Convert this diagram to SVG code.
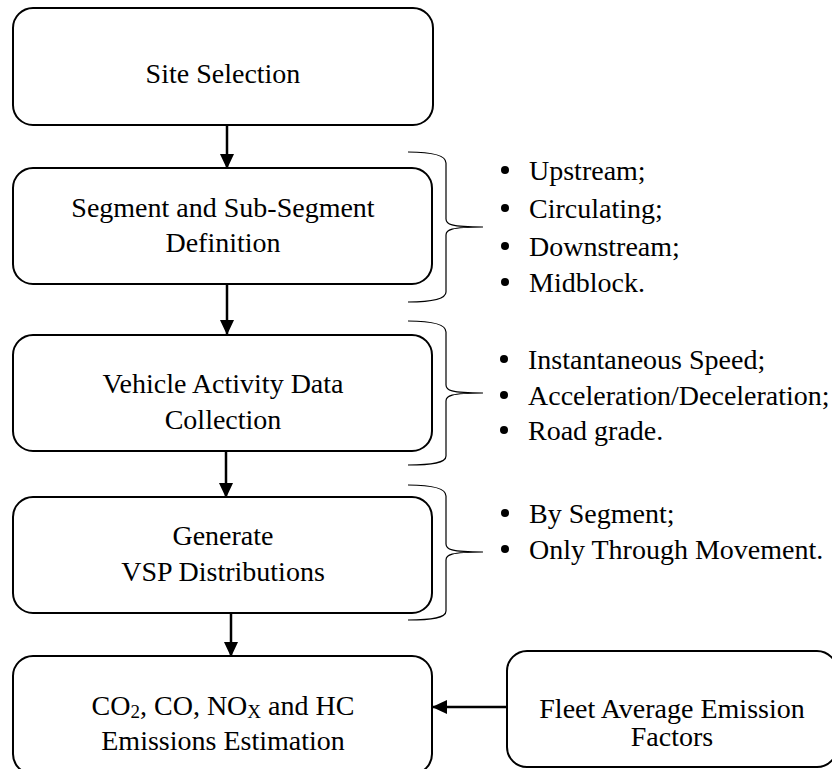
<svg xmlns="http://www.w3.org/2000/svg" width="832" height="769" viewBox="0 0 832 769">
  <style>
    .box { fill: #ffffff; stroke: #000000; stroke-width: 2; }
    .lbl { font-family: 'Liberation Serif', 'Times New Roman', 'DejaVu Serif', serif; font-size: 28px; fill: #000000; text-anchor: middle; }
    .item { font-family: 'Liberation Serif', 'Times New Roman', 'DejaVu Serif', serif; font-size: 28px; fill: #000000; }
    .sub { font-size: 19px; }
    .conn { stroke: #000000; stroke-width: 2.5; fill: none; marker-end: url(#head); }
    .brace { stroke: #000000; stroke-width: 1.2; fill: none; }
    .dot { fill: #000000; }
  </style>
  <defs>
    <marker id="head" markerUnits="userSpaceOnUse" markerWidth="16" markerHeight="14" refX="15" refY="7" orient="auto">
      <path d="M0,0 L15,7 L0,14 Z" fill="#000000"/>
    </marker>
  </defs>

  <rect width="832" height="769" fill="#ffffff"/>

  <!-- connectors -->
  <g id="connectors">
    <line class="conn" x1="227" y1="125" x2="227" y2="169"/>
    <line class="conn" x1="227" y1="284" x2="227" y2="335"/>
    <line class="conn" x1="226" y1="451" x2="226" y2="498"/>
    <line class="conn" x1="231" y1="613" x2="231" y2="657"/>
    <line class="conn" x1="507" y1="707" x2="432" y2="707"/>
  </g>

  <!-- process steps -->
  <g id="site-selection">
    <rect class="box" x="13" y="8" width="420" height="117" rx="20"/>
    <text class="lbl" x="223" y="83">Site Selection</text>
  </g>

  <g id="segment-definition">
    <rect class="box" x="13" y="168" width="419" height="116" rx="20"/>
    <text class="lbl" x="223" y="217">Segment and Sub-Segment</text>
    <text class="lbl" x="223" y="252">Definition</text>
  </g>

  <g id="activity-data">
    <rect class="box" x="13" y="335" width="419" height="116" rx="20"/>
    <text class="lbl" x="223" y="393">Vehicle Activity Data</text>
    <text class="lbl" x="223" y="429">Collection</text>
  </g>

  <g id="vsp-distributions">
    <rect class="box" x="13" y="497" width="419" height="116" rx="20"/>
    <text class="lbl" x="223" y="545">Generate</text>
    <text class="lbl" x="223" y="581">VSP Distributions</text>
  </g>

  <g id="emissions-estimation">
    <rect class="box" x="13" y="656" width="419" height="118" rx="20"/>
    <text class="lbl" x="223" y="715">CO<tspan class="sub" dy="3">2</tspan><tspan dy="-3">, CO, NO</tspan><tspan class="sub" dy="3">X</tspan><tspan dy="-3"> and HC</tspan></text>
    <text class="lbl" x="223" y="750">Emissions Estimation</text>
  </g>

  <g id="emission-factors">
    <rect class="box" x="507" y="651" width="330" height="116" rx="20"/>
    <text class="lbl" x="672" y="718">Fleet Average Emission</text>
    <text class="lbl" x="672" y="746">Factors</text>
  </g>

  <!-- segment list -->
  <g id="segment-list">
    <path class="brace" d="M408,152 C432,152 446,155 446,163 L446,219 C446,224 450,227 483,227 M483,227 C450,227 446,230 446,235 L446,292 C446,299 432,302 408,302"/>
    <circle class="dot" cx="505" cy="170" r="4"/>
    <text class="item" x="529" y="180">Upstream;</text>
    <circle class="dot" cx="505" cy="208" r="4"/>
    <text class="item" x="529" y="218">Circulating;</text>
    <circle class="dot" cx="505" cy="246" r="4"/>
    <text class="item" x="529" y="256">Downstream;</text>
    <circle class="dot" cx="505" cy="282" r="4"/>
    <text class="item" x="529" y="292">Midblock.</text>
  </g>

  <!-- activity data list -->
  <g id="activity-list">
    <path class="brace" d="M408,321 C432,321 446,324 446,332 L446,385 C446,390 450,393 483,393 M483,393 C450,393 446,396 446,401 L446,456 C446,463 432,465 408,465"/>
    <circle class="dot" cx="504" cy="359" r="4"/>
    <text class="item" x="528" y="369">Instantaneous Speed;</text>
    <circle class="dot" cx="504" cy="395" r="4"/>
    <text class="item" x="528" y="405">Acceleration/Deceleration;</text>
    <circle class="dot" cx="504" cy="430" r="4"/>
    <text class="item" x="528" y="440">Road grade.</text>
  </g>

  <!-- VSP list -->
  <g id="vsp-list">
    <path class="brace" d="M408,485 C432,485 446,488 446,496 L446,544 C446,549 450,552 483,552 M483,552 C450,552 446,555 446,560 L446,611 C446,618 432,620 408,620"/>
    <circle class="dot" cx="505" cy="513" r="4"/>
    <text class="item" x="529" y="523">By Segment;</text>
    <circle class="dot" cx="505" cy="549" r="4"/>
    <text class="item" x="529" y="559">Only Through Movement.</text>
  </g>
</svg>
